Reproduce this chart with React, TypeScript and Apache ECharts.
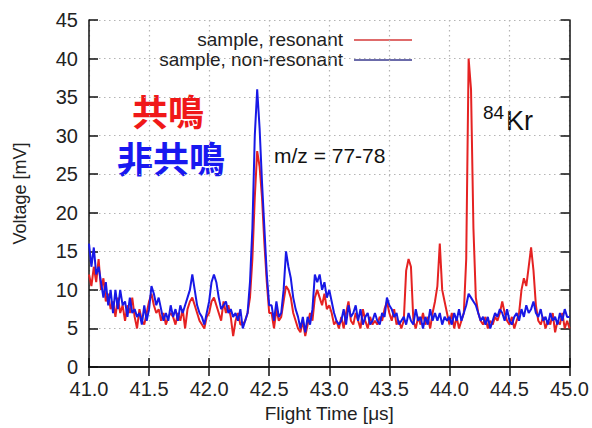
import React, { useEffect, useRef } from "react";
import * as echarts from "echarts";

const seriesNames = ["sample, resonant", "sample, non-resonant"];
const seriesColors = ["#e52222", "#1818e6"];
const legendLineColors = ["#d43a3a", "#3a3a8e"];
const xStart = 41.0;
const xStep = 0.02;

const resonant = [
  12, 10.5, 13, 11, 14,
  10, 11.5, 8.5, 9.5, 7.5,
  8.5, 6.5, 9, 7, 8,
  6, 8, 7, 9, 6.5,
  5, 7.5, 6, 5.5, 7,
  8.5, 9.5, 8, 7, 7.5,
  6, 7, 5.5, 6.5, 7,
  6.5, 5.5, 7, 6, 7.5,
  5, 7.5, 8.5, 9, 8,
  7, 6, 5.5, 5, 6.5,
  7, 8.5, 9, 8, 7,
  6, 8.5, 7, 8, 6.5,
  4, 6, 7, 5.5, 5.5,
  6, 7, 9, 14, 22,
  28, 26, 22, 16, 11,
  7, 7, 5, 7.5, 6,
  6.5, 8.5, 10.5, 10, 9,
  7, 6, 5, 4.5, 6,
  4, 5.5, 7, 6, 9,
  10, 9, 8, 9.5, 7.5,
  8, 7, 5.5, 6, 5,
  6.5, 5, 7, 8.5, 6,
  5.5, 7, 6, 5, 7.5,
  6, 5, 6.5, 5.5, 6,
  5.5, 6.5, 6, 7.5, 8.5,
  7, 6, 7.5, 5.5, 6,
  5, 6, 12.5, 14, 13,
  6, 5, 6.5, 5.5, 7,
  5.5, 6.5, 5, 7, 8.5,
  10.5, 16, 10, 8.5, 7,
  5.5, 7, 5, 6.5, 5,
  6, 7, 14, 40, 36,
  18, 9, 7, 6, 5.5,
  6.5, 5, 6, 5.5, 6.5,
  6, 7, 8.5, 7, 6,
  5.5, 6.5, 5, 6, 7,
  10, 11.5, 10.5, 13, 15.5,
  12.5, 8, 6, 5.5, 6.5,
  5, 6, 5.5, 7, 4.5,
  6, 5.5, 7, 5, 6,
  5,
];

const nonResonant = [
  16, 13, 15.5, 12, 13,
  11, 9, 11, 8, 10,
  7, 10, 7.5, 10, 8,
  8.5, 6.5, 9, 7, 7.5,
  6.5, 7, 5.5, 8, 6,
  7.5, 10.5, 9.5, 8, 9,
  7.5, 6, 7, 6, 8,
  6.5, 7.5, 6, 8, 7,
  8, 9, 10, 12, 10,
  8, 7, 6.5, 5.5, 7,
  8.5, 11, 12, 11, 9,
  7.5, 8, 8.5, 7, 7.5,
  6.5, 7, 6, 7.5, 5,
  6, 7, 11, 18, 30,
  36, 31, 24, 18, 12,
  8, 8, 6, 8.5, 6.5,
  7, 10, 15, 13, 11.5,
  9, 7.5, 6.5, 5, 6.5,
  4.5, 6.5, 5.5, 7.5, 12,
  11, 12, 10, 11, 9,
  10, 8.5, 7, 6, 5.5,
  6, 7.5, 5.5, 8, 6.5,
  7, 8, 6, 7.5, 5.5,
  6.5, 7, 5.5, 6, 7,
  6, 5.5, 7, 6.5, 9,
  8, 7.5, 6.5, 7, 5.5,
  6, 6.5, 5.5, 7, 6,
  5.5, 7.5, 6, 6.5, 5,
  6.5, 5.5, 7.5, 6, 7,
  6, 7, 5.5, 6.5, 6,
  6.5, 5.5, 7, 6, 7.5,
  6, 7, 8, 9.5, 9,
  8.5, 8, 7, 6, 6.5,
  5.5, 6.5, 5, 6, 7,
  6.5, 7.5, 7, 6, 7.5,
  6, 5.5, 6.5, 7, 6,
  7.5, 6.5, 8, 7, 7.5,
  8.5, 7, 6.5, 7.5, 6,
  6.5, 5.5, 7, 6, 6.5,
  5.5, 7, 6, 7.5, 6.5,
  6.5,
];

const FONT = "'Liberation Sans', Arial, sans-serif";
const CJK = "'Noto Sans CJK JP', 'Noto Sans CJK SC', sans-serif";

function toPairs(vals: number[]) {
  return vals.map((v, i) => [+(xStart + i * xStep).toFixed(2), v]);
}

export default function App() {
  const ref = useRef<HTMLDivElement>(null);
  useEffect(() => {
    if (!ref.current) return;
    const chart = echarts.init(ref.current, undefined, { renderer: "svg" });
    const axisLine = { show: true, lineStyle: { color: "#111", width: 1.5 } };
    const tick = { show: true, inside: true, length: 9, lineStyle: { color: "#111", width: 1.5 } };
    const split = { show: true, lineStyle: { color: "#b4b4b4", type: [1.5, 3.5] as any, width: 1.2 } };
    chart.setOption({
      animation: false,
      backgroundColor: "#ffffff",
      grid: { left: 89, right: 21, top: 20, bottom: 61, containLabel: false },
      xAxis: [
        {
          type: "value",
          min: 41,
          max: 45,
          interval: 0.5,
          position: "bottom",
          name: "Flight Time [\u03bcs]",
          nameLocation: "middle",
          nameGap: 36,
          nameTextStyle: { fontFamily: FONT, fontSize: 19, color: "#222" },
          axisLine,
          axisTick: tick,
          splitLine: split,
          axisLabel: {
            fontFamily: FONT,
            fontSize: 20,
            color: "#222",
            margin: 12,
            formatter: (v: number) => v.toFixed(1),
          },
        },
        {
          type: "value",
          min: 41,
          max: 45,
          interval: 0.5,
          position: "top",
          axisLine,
          axisTick: tick,
          splitLine: { show: false },
          axisLabel: { show: false },
        },
      ],
      yAxis: [
        {
          type: "value",
          min: 0,
          max: 45,
          interval: 5,
          position: "left",
          name: "Voltage [mV]",
          nameLocation: "middle",
          nameGap: 60,
          nameTextStyle: { fontFamily: FONT, fontSize: 18, color: "#222" },
          axisLine,
          axisTick: tick,
          splitLine: split,
          axisLabel: { fontFamily: FONT, fontSize: 20, color: "#222", margin: 11 },
        },
        {
          type: "value",
          min: 0,
          max: 45,
          interval: 5,
          position: "right",
          axisLine,
          axisTick: tick,
          splitLine: { show: false },
          axisLabel: { show: false },
        },
      ],
      series: [
        {
          name: seriesNames[0],
          type: "line",
          data: toPairs(resonant),
          showSymbol: false,
          symbol: "none",
          lineStyle: { color: seriesColors[0], width: 2 },
          itemStyle: { color: seriesColors[0] },
          z: 2,
        },
        {
          name: seriesNames[1],
          type: "line",
          data: toPairs(nonResonant),
          showSymbol: false,
          symbol: "none",
          lineStyle: { color: seriesColors[1], width: 2 },
          itemStyle: { color: seriesColors[1] },
          z: 3,
        },
      ],
      graphic: [
        ...seriesNames.map((n, i) => ({
          type: "text",
          right: 592 - 343,
          top: 30 + i * 20,
          style: { text: n, fontFamily: FONT, fontSize: 19, fill: "#222" },
        })),
        ...seriesNames.map((n, i) => ({
          type: "line",
          shape: { x1: 354, y1: 40 + i * 20, x2: 412, y2: 40 + i * 20 },
          style: { stroke: legendLineColors[i], lineWidth: 1.5 },
        })),
        {
          type: "text",
          x: 168,
          y: 110,
          style: {
            text: "共鳴",
            fontFamily: CJK,
            fontWeight: "bold",
            fontSize: 36,
            fill: "#f01818",
            align: "center",
            verticalAlign: "middle",
          },
        },
        {
          type: "text",
          x: 171,
          y: 157,
          style: {
            text: "非共鳴",
            fontFamily: CJK,
            fontWeight: "bold",
            fontSize: 36,
            fill: "#1818f0",
            align: "center",
            verticalAlign: "middle",
          },
        },
        {
          type: "text",
          x: 274,
          y: 155,
          style: {
            text: "m/z = 77-78",
            fontFamily: FONT,
            fontSize: 21,
            fill: "#111",
            verticalAlign: "middle",
          },
        },
        {
          type: "text",
          x: 483,
          y: 112,
          style: { text: "84", fontFamily: FONT, fontSize: 19, fill: "#111", verticalAlign: "middle" },
        },
        {
          type: "text",
          x: 506,
          y: 121,
          style: { text: "Kr", fontFamily: FONT, fontSize: 27, fill: "#111", verticalAlign: "middle" },
        },
      ],
    });
    return () => chart.dispose();
  }, []);
  return (
    <div
      ref={ref}
      style={{ position: "fixed", left: 0, top: 0, width: 592, height: 428, background: "#fff" }}
    />
  );
}
